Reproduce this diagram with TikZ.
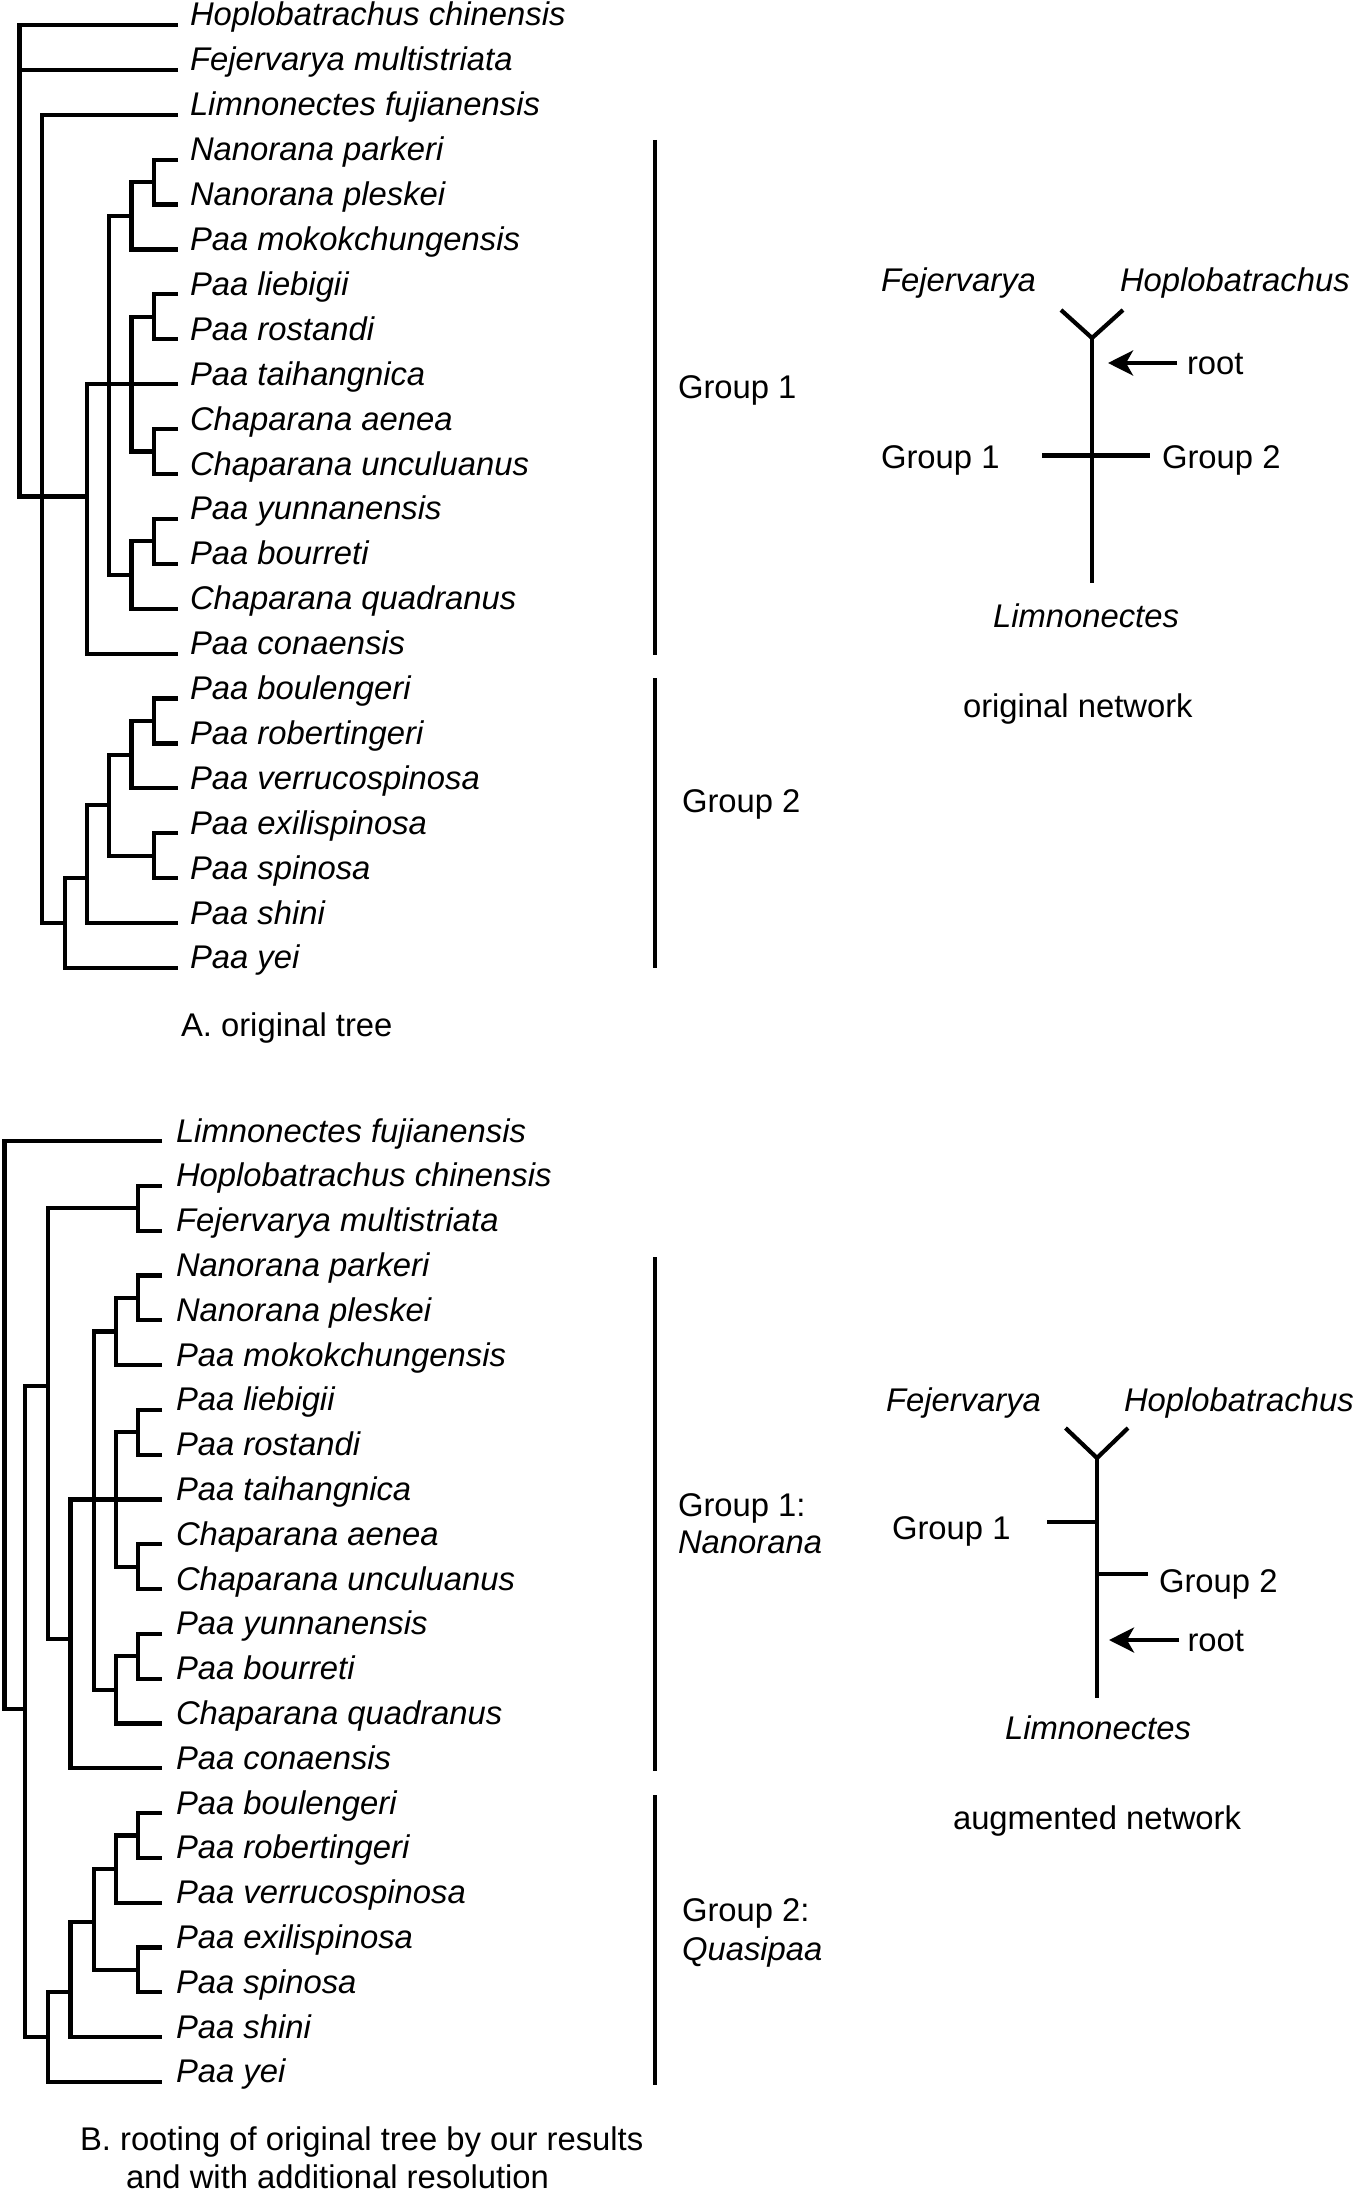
\documentclass[tikz,border=0pt]{standalone}
\usepackage{fontspec}
\setmainfont{Liberation Sans}
\usetikzlibrary{arrows.meta}
\begin{document}
\begin{tikzpicture}[x=0.5pt,y=-0.5pt,
  br/.style={line width=2.1pt, line join=miter},
  leaf/.style={font=\fontsize{16.4}{19}\selectfont\itshape, anchor=base west, inner sep=0pt, outer sep=0pt},
  lbl/.style={font=\fontsize{16.4}{19}\selectfont, anchor=base west, inner sep=0pt, outer sep=0pt},
  ilbl/.style={lbl, font=\fontsize{16.4}{19}\selectfont\itshape},
  rootarrow/.style={br, -{Stealth[length=12.5pt,width=12.5pt,inset=3.5pt]}}]
\useasboundingbox (0,0) rectangle (1356,2193);

% ================= Panel A: original tree =================
\foreach \n [count=\i from 0] in {Hoplobatrachus chinensis,Fejervarya multistriata,Limnonectes fujianensis,Nanorana parkeri,Nanorana pleskei,Paa mokokchungensis,Paa liebigii,Paa rostandi,Paa taihangnica,Chaparana aenea,Chaparana unculuanus,Paa yunnanensis,Paa bourreti,Chaparana quadranus,Paa conaensis,Paa boulengeri,Paa robertingeri,Paa verrucospinosa,Paa exilispinosa,Paa spinosa,Paa shini,Paa yei}{
  \coordinate (tA\i) at (178,{25+44.9*\i});
  \node[leaf] (lA\i) at (190,{26+44.9*\i}) {\n};
}
\coordinate (a0) at (19.5,0);
\coordinate (a1) at (42,0);
\coordinate (a2) at (64.7,0);
\coordinate (a3) at (87,0);
\coordinate (a4) at (109,0);
\coordinate (a5) at (131.5,0);
\coordinate (a6) at (154,0);
\coordinate (jA) at (19.5,496.5);
\coordinate (kA) at (42,923);
\coordinate (nA1) at (154,182.15);
\coordinate (nA2) at (131.5,215.8);
\coordinate (nA3) at (154,316.85);
\coordinate (nA4) at (154,451.55);
\coordinate (nA5) at (154,541.35);
\coordinate (nA6) at (131.5,575);
\coordinate (nA7) at (154,720.95);
\coordinate (nA8) at (131.5,754.6);
\coordinate (nA9) at (154,855.65);
\coordinate (nA10) at (109,805.1);

\draw[br] (tA0) -- (tA0 -| a0) -- (jA) -- (jA -| a3);
\draw[br] (tA1) -- (tA1 -| a0);
\draw[br] (tA2) -- (tA2 -| a1) -- (kA) -- (kA -| a2);
\draw[br] (tA8) -- (tA8 -| a3) -- (tA14 -| a3) -- (tA14);
\draw[br] (tA3) -- (tA3 -| a6) -- (tA4 -| a6) -- (tA4);
\draw[br] (nA1) -- (nA1 -| a5) -- (tA5 -| a5) -- (tA5);
\draw[br] (nA2) -- (nA2 -| a4) -- (nA6 -| a4) -- (nA6);
\draw[br] (tA6) -- (tA6 -| a6) -- (tA7 -| a6) -- (tA7);
\draw[br] (tA9) -- (tA9 -| a6) -- (tA10 -| a6) -- (tA10);
\draw[br] (nA3) -- (nA3 -| a5) -- (nA4 -| a5) -- (nA4);
\draw[br] (tA11) -- (tA11 -| a6) -- (tA12 -| a6) -- (tA12);
\draw[br] (nA5) -- (nA5 -| a5) -- (tA13 -| a5) -- (tA13);
\draw[br] (tA15) -- (tA15 -| a6) -- (tA16 -| a6) -- (tA16);
\draw[br] (nA7) -- (nA7 -| a5) -- (tA17 -| a5) -- (tA17);
\draw[br] (tA18) -- (tA18 -| a6) -- (tA19 -| a6) -- (tA19);
\draw[br] (nA8) -- (nA8 -| a4) -- (nA9 -| a4) -- (nA9);
\draw[br] (nA10) -- (nA10 -| a3) -- (tA20 -| a3) -- (tA20);
\draw[br] (tA19 -| a3) -- (tA19 -| a2) -- (tA21 -| a2) -- (tA21);

\coordinate (barA1t) at (655,140);
\coordinate (barA1b) at (655,655);
\coordinate (barA2t) at (655,678);
\coordinate (barA2b) at (655,968);
\draw[br] (barA1t) -- (barA1b);
\draw[br] (barA2t) -- (barA2b);
\node[lbl] (gA1) at (678,398) {Group 1};
\node[lbl] (gA2) at (682,812) {Group 2};
\node[lbl] (capA) at (181,1036.5) {A. original tree};

% ================= Network A =================
\coordinate (apA) at (1092,338);
\coordinate (armAL) at (1061,310);
\coordinate (armAR) at (1123,310);
\coordinate (botA) at (1092,583);
\coordinate (hAL) at (1042,455.5);
\coordinate (hAR) at (1150,455.5);
\coordinate (arA0) at (1177,363);
\coordinate (arA1) at (1108,363);
\draw[br] (armAL) -- (apA) -- (armAR);
\draw[br] (apA) -- (botA);
\draw[br] (hAL) -- (hAR);
\draw[rootarrow] (arA0) -- (arA1);
\node[ilbl] (fejA) at (881,292) {Fejervarya};
\node[ilbl] (hopA) at (1120,292) {Hoplobatrachus};
\node[lbl] (ng1A) at (881,468) {Group 1};
\node[lbl] (ng2A) at (1162,468) {Group 2};
\node[lbl] (rootA) at (1187,374) {root};
\node[ilbl] (limA) at (993,627) {Limnonectes};
\node[lbl] (onA) at (963,717) {original network};

% ================= Panel B: rooted tree =================
\foreach \n [count=\i from 0] in {Limnonectes fujianensis,Hoplobatrachus chinensis,Fejervarya multistriata,Nanorana parkeri,Nanorana pleskei,Paa mokokchungensis,Paa liebigii,Paa rostandi,Paa taihangnica,Chaparana aenea,Chaparana unculuanus,Paa yunnanensis,Paa bourreti,Chaparana quadranus,Paa conaensis,Paa boulengeri,Paa robertingeri,Paa verrucospinosa,Paa exilispinosa,Paa spinosa,Paa shini,Paa yei}{
  \coordinate (tB\i) at (162,{1141+44.8*\i});
  \node[leaf] (lB\i) at (176,{1142+44.8*\i}) {\n};
}
\coordinate (b0) at (4.5,0);
\coordinate (b1) at (25,0);
\coordinate (b2) at (48,0);
\coordinate (b3) at (70.5,0);
\coordinate (b4) at (94,0);
\coordinate (b5) at (116,0);
\coordinate (b6) at (138,0);
\coordinate (jB) at (4.5,1709);
\coordinate (sB) at (25,1386);
\coordinate (uB) at (48,1639);
\coordinate (nB0) at (138,1208.2);
\coordinate (nB1) at (138,1297.8);
\coordinate (nB2) at (116,1331.4);
\coordinate (nB3) at (138,1432.2);
\coordinate (nB4) at (138,1566.6);
\coordinate (nB5) at (138,1656.2);
\coordinate (nB6) at (116,1689.8);
\coordinate (nB7) at (138,1835.4);
\coordinate (nB8) at (116,1869);
\coordinate (nB9) at (138,1969.8);
\coordinate (nB10) at (94,1922);

\draw[br] (tB0) -- (tB0 -| b0) -- (jB) -- (jB -| b1);
\draw[br] (sB -| b2) -- (sB) -- (tB20 -| b1) -- (tB20 -| b2);
\draw[br] (tB1) -- (tB1 -| b6) -- (tB2 -| b6) -- (tB2);
\draw[br] (nB0) -- (nB0 -| b2) -- (uB) -- (uB -| b3);
\draw[br] (tB8) -- (tB8 -| b3) -- (tB14 -| b3) -- (tB14);
\draw[br] (tB3) -- (tB3 -| b6) -- (tB4 -| b6) -- (tB4);
\draw[br] (nB1) -- (nB1 -| b5) -- (tB5 -| b5) -- (tB5);
\draw[br] (nB2) -- (nB2 -| b4) -- (nB6 -| b4) -- (nB6);
\draw[br] (tB6) -- (tB6 -| b6) -- (tB7 -| b6) -- (tB7);
\draw[br] (tB9) -- (tB9 -| b6) -- (tB10 -| b6) -- (tB10);
\draw[br] (nB3) -- (nB3 -| b5) -- (nB4 -| b5) -- (nB4);
\draw[br] (tB11) -- (tB11 -| b6) -- (tB12 -| b6) -- (tB12);
\draw[br] (nB5) -- (nB5 -| b5) -- (tB13 -| b5) -- (tB13);
\draw[br] (tB15) -- (tB15 -| b6) -- (tB16 -| b6) -- (tB16);
\draw[br] (nB7) -- (nB7 -| b5) -- (tB17 -| b5) -- (tB17);
\draw[br] (tB18) -- (tB18 -| b6) -- (tB19 -| b6) -- (tB19);
\draw[br] (nB8) -- (nB8 -| b4) -- (nB9 -| b4) -- (nB9);
\draw[br] (nB10) -- (nB10 -| b3) -- (tB20 -| b3) -- (tB20);
\draw[br] (tB19 -| b3) -- (tB19 -| b2) -- (tB21 -| b2) -- (tB21);

\coordinate (barB1t) at (655,1257);
\coordinate (barB1b) at (655,1771);
\coordinate (barB2t) at (655,1795);
\coordinate (barB2b) at (655,2085);
\draw[br] (barB1t) -- (barB1b);
\draw[br] (barB2t) -- (barB2b);
\node[lbl] (gB1) at (678,1516) {Group 1:};
\node[ilbl] (gB1n) at (678,1553) {Nanorana};
\node[lbl] (gB2) at (682,1921) {Group 2:};
\node[ilbl] (gB2n) at (682,1960) {Quasipaa};
\node[lbl] (capB1) at (80,2150) {B. rooting of original tree by our results};
\node[lbl] (capB2) at (126,2188.5) {and with additional resolution};

% ================= Network B =================
\coordinate (apB) at (1097,1458);
\coordinate (armBL) at (1065.5,1428);
\coordinate (armBR) at (1128,1428);
\coordinate (botB) at (1097,1698);
\coordinate (g1L) at (1047,1522);
\coordinate (g1R) at (1097,1522);
\coordinate (g2L) at (1097,1574);
\coordinate (g2R) at (1147.5,1574);
\coordinate (arB0) at (1179,1640);
\coordinate (arB1) at (1109,1640);
\draw[br] (armBL) -- (apB) -- (armBR);
\draw[br] (apB) -- (botB);
\draw[br] (g1L) -- (g1R);
\draw[br] (g2L) -- (g2R);
\draw[rootarrow] (arB0) -- (arB1);
\node[ilbl] (fejB) at (886,1411) {Fejervarya};
\node[ilbl] (hopB) at (1124,1411) {Hoplobatrachus};
\node[lbl] (ng1B) at (892,1539) {Group 1};
\node[lbl] (ng2B) at (1159,1592.5) {Group 2};
\node[lbl] (rootB) at (1187.5,1651.5) {root};
\node[ilbl] (limB) at (1005,1739) {Limnonectes};
\node[lbl] (anB) at (953,1829) {augmented network};
\end{tikzpicture}
\end{document}
